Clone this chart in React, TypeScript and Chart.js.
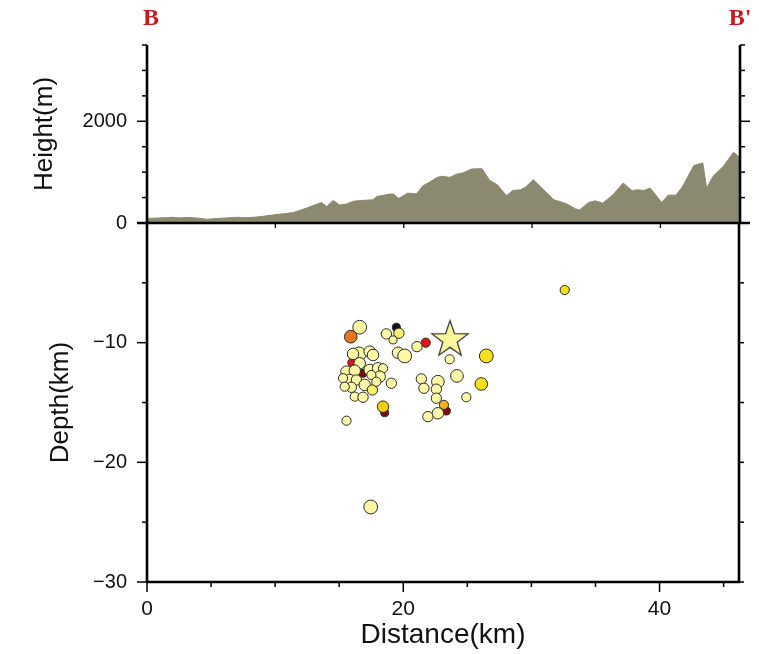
import React, { useEffect, useRef } from 'react';
import { Chart, registerables } from 'chart.js';

Chart.register(...registerables);

// ---------- data ----------
const X_MAX = 46.2;
const HEIGHT_MAX = 3500;
const DEPTH_MIN = -30;

const endLabels = ['B', "B'"];

const profileDist = [
  0, 0.6, 1.5, 2.0, 2.5, 3.2, 4.0, 4.7, 5.5, 6.2, 7.0, 7.7, 8.3, 9.0, 9.8, 10.6, 11.4, 12.4, 13.0, 13.6,
  14.0, 14.5, 15.0, 15.5, 16.1, 16.8, 17.6, 17.9, 18.9, 19.2, 19.6, 20.3, 21.0, 21.5, 22.0, 22.6, 23.0,
  23.6, 24.1, 24.6, 25.3, 26.1, 26.7, 27.3, 28.0, 28.5, 29.1, 29.5, 30.1, 30.9, 31.7, 32.2, 32.7, 33.4,
  33.7, 34.4, 34.9, 35.5, 36.3, 37.1, 37.8, 38.2, 38.7, 39.2, 40.1, 40.6, 41.2, 41.7, 42.6, 43.3, 43.6,
  44.1, 44.9, 45.7, 46.2,
];
const profileHeight = [
  90, 95, 105, 113, 100, 110, 95, 73, 90, 100, 113, 105, 113, 130, 158, 180, 205, 290, 350, 403,
  323, 442, 356, 370, 429, 445, 455, 521, 568, 570, 482, 587, 574, 733, 800, 897, 920,
  897, 960, 984, 1063, 1069, 838, 752, 535, 640, 653, 707, 851, 653, 455, 420, 376, 277,
  257, 403, 436, 390, 554, 786, 634, 653, 640, 687, 403, 548, 548, 707, 1129, 1182, 687,
  917, 1115, 1392, 1281,
];

// earthquakes: distance (km), depth (km), magnitude, time group
const quakeDist = [
  16.86, 18.55, 23.36, 21.75, 16.03, 19.46, 15.90,
  16.60, 18.68, 19.66, 19.20, 21.07, 19.59, 20.11, 26.48, 23.62, 16.55, 16.08, 17.38, 17.64,
  16.60, 15.57, 16.21, 17.38, 18.03, 18.42, 18.16, 17.51, 15.82, 15.30, 16.34, 16.99, 17.59,
  15.95, 15.43, 19.07, 17.90, 16.21, 16.86, 21.41, 22.70, 24.19, 26.09, 21.61, 22.58, 24.92,
  22.58, 18.42, 23.17, 22.70, 21.92, 15.57, 32.60, 17.46,
];
const quakeDepth = [
  -12.56, -15.85, -15.71, -10.0, -11.67, -8.71, -9.50,
  -8.71, -9.27, -9.21, -9.77, -10.33, -10.84, -11.11, -11.11, -11.39, -10.94, -10.94, -10.75, -11.03,
  -11.72, -12.42, -12.34, -12.28, -12.14, -12.14, -12.84, -12.70, -13.12, -12.97, -13.12, -13.53, -13.95,
  -13.73, -13.68, -13.39, -13.26, -14.51, -14.56, -13.03, -13.26, -12.78, -13.45, -13.81, -13.89, -14.56,
  -14.64, -15.35, -15.20, -15.90, -16.18, -16.52, -5.60, -23.73,
];
const quakeMag = [
  1.75, 1.75, 1.75, 2.0, 2.0, 1.75, 2.75,
  3.0, 2.25, 2.25, 1.75, 2.25, 2.5, 3.0, 3.0, 2.0, 3.0, 2.5, 2.5, 2.5,
  2.5, 2.5, 2.5, 2.5, 2.5, 2.0, 2.5, 2.0, 2.5, 2.0, 2.25, 2.5, 2.25,
  2.25, 2.0, 2.25, 2.0, 2.0, 2.25, 2.25, 2.75, 2.75, 2.75, 2.25, 2.25, 2.0,
  2.25, 2.5, 2.0, 2.5, 2.25, 2.0, 2.0, 3.0,
];
const quakeGroup = [
  7, 7, 7, 6, 6, 8, 5,
  0, 0, 1, 0, 0, 0, 0, 2, 0, 0, 0, 0, 0,
  0, 0, 0, 0, 0, 0, 0, 0, 0, 0, 0, 0, 1,
  0, 0, 0, 0, 0, 0, 0, 0, 0, 2, 0, 0, 0,
  0, 3, 4, 0, 0, 0, 2, 0,
];

const mainShockDist = [23.65];
const mainShockDepth = [-9.6];

// ---------- styles ----------
const groupColors = [
  '#fcf8a6', '#f7ee6c', '#f4e01c', '#f2cc10', '#f3b21c', '#e8741c', '#e01414', '#7e0a0a', '#141414',
];
const TOPO_FILL = '#8b8a70';
const SANS = "'Liberation Sans', Arial, Helvetica, sans-serif";
const SERIF = "'Liberation Serif', 'Times New Roman', serif";

function makeStar(R: number) {
  const size = Math.ceil(R * 2 + 6);
  const c = document.createElement('canvas');
  c.width = size;
  c.height = size;
  const g = c.getContext('2d')!;
  const cx = size / 2;
  const cy = size / 2 + R * 0.095;
  g.beginPath();
  for (let i = 0; i < 10; i++) {
    const r = i % 2 === 0 ? R : R * 0.4;
    const a = -Math.PI / 2 + (i * Math.PI) / 5;
    const px = cx + r * Math.cos(a);
    const py = cy + r * Math.sin(a);
    if (i === 0) g.moveTo(px, py);
    else g.lineTo(px, py);
  }
  g.closePath();
  g.fillStyle = '#fbf59c';
  g.fill();
  g.lineWidth = 1.3;
  g.strokeStyle = '#3a3a3a';
  g.stroke();
  return c;
}

function line(ctx: CanvasRenderingContext2D, x1: number, y1: number, x2: number, y2: number, w: number) {
  ctx.lineWidth = w;
  ctx.beginPath();
  ctx.moveTo(x1, y1);
  ctx.lineTo(x2, y2);
  ctx.stroke();
}

const topoFrame = {
  id: 'topoFrame',
  afterDraw(chart: any) {
    const { ctx, chartArea: ca, scales } = chart;
    const ys = scales.y;
    const xs = scales.x;
    ctx.save();
    ctx.strokeStyle = '#000';
    ctx.lineCap = 'butt';
    for (let v = 0; v <= HEIGHT_MAX; v += 500) {
      const py = ys.getPixelForValue(v);
      const len = v % 2000 === 0 ? 10 : 5;
      line(ctx, ca.left - len, py, ca.left, py, 1.5);
      line(ctx, ca.right, py, ca.right + len, py, 1.5);
    }
    for (let d = 10; d < X_MAX; d += 10) {
      const px = xs.getPixelForValue(d);
      line(ctx, px, ca.bottom, px, ca.bottom + 5, 1.3);
    }
    line(ctx, ca.left, ca.top, ca.left, ca.bottom + 1, 2.6);
    line(ctx, ca.right, ca.top, ca.right, ca.bottom + 1, 2.6);
    line(ctx, ca.left - 10, ca.bottom, ca.right + 10, ca.bottom, 2.6);
    // end labels
    ctx.fillStyle = '#c9191f';
    ctx.font = `bold 24px ${SERIF}`;
    ctx.textAlign = 'center';
    ctx.textBaseline = 'middle';
    ctx.fillText(endLabels[0], xs.getPixelForValue(0) + 4, 19);
    ctx.fillText(endLabels[1], xs.getPixelForValue(X_MAX), 19);
    ctx.restore();
  },
};

const depthFrame = {
  id: 'depthFrame',
  afterDraw(chart: any) {
    const { ctx, chartArea: ca, scales } = chart;
    const ys = scales.y;
    const xs = scales.x;
    ctx.save();
    ctx.strokeStyle = '#000';
    for (let v = DEPTH_MIN; v < 0; v += 5) {
      const py = ys.getPixelForValue(v);
      const len = v % 10 === 0 ? 10 : 5;
      line(ctx, ca.left - len, py, ca.left, py, 1.5);
      line(ctx, ca.right, py, ca.right + 5, py, 1.5);
    }
    for (let d = 0; d < X_MAX; d += 5) {
      const px = xs.getPixelForValue(d);
      const len = d % 20 === 0 ? 10 : 5;
      line(ctx, px, ca.bottom, px, ca.bottom + len, 1.5);
    }
    line(ctx, ca.left, ca.top, ca.left, ca.bottom + 1, 2.6);
    line(ctx, ca.right, ca.top, ca.right, ca.bottom + 1, 2.6);
    line(ctx, ca.left - 1, ca.bottom, ca.right + 1, ca.bottom, 2.6);
    ctx.restore();
  },
};

export default function App() {
  const topoRef = useRef<HTMLCanvasElement>(null);
  const depthRef = useRef<HTMLCanvasElement>(null);

  useEffect(() => {
    const star = makeStar(19);

    const topo = new Chart(topoRef.current!, {
      type: 'line',
      data: {
        datasets: [
          {
            data: profileDist.map((d, i) => ({ x: d, y: profileHeight[i] })),
            fill: 'origin',
            backgroundColor: TOPO_FILL,
            borderColor: TOPO_FILL,
            borderWidth: 1,
            pointRadius: 0,
            tension: 0,
          },
        ],
      },
      options: {
        animation: false,
        responsive: false,
        devicePixelRatio: 1,
        layout: { padding: { left: 0, right: 19, top: 45, bottom: 431 } },
        plugins: { legend: { display: false }, tooltip: { enabled: false } },
        scales: {
          x: { type: 'linear', min: 0, max: X_MAX, display: false },
          y: {
            type: 'linear',
            min: 0,
            max: HEIGHT_MAX,
            grid: { display: false },
            border: { display: false },
            afterFit: (s: any) => {
              s.width = 147;
            },
            ticks: {
              stepSize: 500,
              autoSkip: false,
              padding: 12,
              color: '#111',
              font: { family: SANS, size: 20 },
              callback: (v: any) => (Number(v) % 2000 === 0 ? String(v) : ''),
            },
            title: {
              display: true,
              text: 'Height(m)',
              color: '#111',
              font: { family: SANS, size: 26 },
              padding: { top: 29, bottom: 0 },
            },
          },
        },
      },
      plugins: [topoFrame],
    });

    const depth = new Chart(depthRef.current!, {
      type: 'scatter',
      data: {
        datasets: [
          {
            data: mainShockDist.map((d, i) => ({ x: d, y: mainShockDepth[i] })),
            pointStyle: star as any,
            pointRadius: 19,
          },
          {
            data: quakeDist.map((d, i) => ({ x: d, y: quakeDepth[i] })),
            pointBackgroundColor: quakeGroup.map((g) => groupColors[g]),
            pointBorderColor: '#2b2b2b',
            pointBorderWidth: 1,
            pointRadius: quakeMag.map((m) => m * 2.3),
          },
        ],
      },
      options: {
        animation: false,
        responsive: false,
        devicePixelRatio: 1,
        layout: { padding: { left: 0, right: 19, top: 223, bottom: 0 } },
        plugins: { legend: { display: false }, tooltip: { enabled: false } },
        scales: {
          x: {
            type: 'linear',
            min: 0,
            max: X_MAX,
            grid: { display: false },
            border: { display: false },
            afterFit: (s: any) => {
              s.height = 72;
            },
            ticks: {
              stepSize: 5,
              autoSkip: false,
              maxRotation: 0,
              padding: 7,
              color: '#111',
              font: { family: SANS, size: 21 },
              callback: (v: any) => (Number(v) % 20 === 0 ? String(v) : ''),
            },
            title: {
              display: true,
              text: 'Distance(km)',
              color: '#111',
              font: { family: SANS, size: 28 },
              padding: { top: 0, bottom: 2 },
            },
          },
          y: {
            type: 'linear',
            min: DEPTH_MIN,
            max: 0,
            grid: { display: false },
            border: { display: false },
            afterFit: (s: any) => {
              s.width = 147;
            },
            ticks: {
              stepSize: 5,
              autoSkip: false,
              padding: 12,
              color: '#111',
              font: { family: SANS, size: 20 },
              callback: (v: any) => {
                const n = Number(v);
                return n % 10 === 0 && n !== 0 ? '\u2212' + Math.abs(n) : '';
              },
            },
            title: {
              display: true,
              text: 'Depth(km)',
              color: '#111',
              font: { family: SANS, size: 26 },
              padding: { top: 45, bottom: 0 },
            },
          },
        },
      },
      plugins: [depthFrame],
    });

    return () => {
      topo.destroy();
      depth.destroy();
    };
  }, []);

  const canvasStyle: React.CSSProperties = { position: 'absolute', left: 0, top: 0, width: 759, height: 654 };
  return (
    <div style={{ position: 'fixed', left: 0, top: 0, width: 759, height: 654, background: '#fff' }}>
      <canvas ref={depthRef} width={759} height={654} style={canvasStyle} />
      <canvas ref={topoRef} width={759} height={654} style={canvasStyle} />
    </div>
  );
}
